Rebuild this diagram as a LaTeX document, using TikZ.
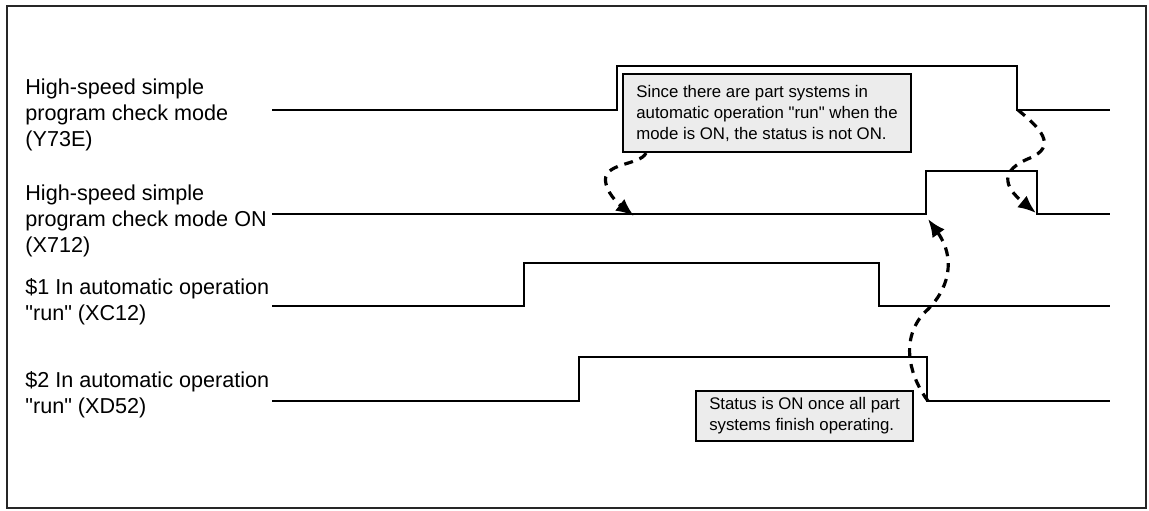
\documentclass[tikz,border=0pt]{standalone}
\usepackage{fontspec}
\setmainfont{Liberation Sans}
\usetikzlibrary{arrows.meta}

\begin{document}
\begin{tikzpicture}[x=0.5pt, y=-0.5pt, >={Latex[length=9pt,width=7.5pt]},
    signal/.style={line width=1pt},
    siglabel/.style={anchor=north west, align=left, inner sep=0pt,
        font=\fontsize{10.8}{13}\selectfont},
    note/.style={draw, line width=1pt, fill=gray!15, align=left,
        font=\fontsize{8.4}{10.5}\selectfont},
    hint/.style={->, line width=1.6pt, dash pattern=on 4.5pt off 3.5pt}]
        \useasboundingbox (0,0) rectangle (1149,510);
        % ==== FRAME ====
        \draw[line width=1pt, black!85] (7,6) rectangle (1146,508);

        % ==== SIGNAL NAMES ====
        \node[siglabel] (nameY73E) at (25,78) {High-speed simple\\program check mode\\(Y73E)};
        \node[siglabel] (nameX712) at (25,184) {High-speed simple\\program check mode ON\\(X712)};
        \node[siglabel] (nameXC12) at (25,278) {\$1 In automatic operation\\\textquotedbl run\textquotedbl{} (XC12)};
        \node[siglabel] (nameXD52) at (25,371) {\$2 In automatic operation\\\textquotedbl run\textquotedbl{} (XD52)};

        % ==== WAVEFORMS ====
        \draw[signal] (272,110) -- (617,110) -- (617,66) -- (1017,66)
            coordinate (y73eFall) -- (1017,110) coordinate (y73eLow) -- (1110,110);
        \draw[signal] (272,214) -- (926,214) coordinate (x712Rise) -- (926,171)
            -- (1037,171) -- (1037,214) coordinate (x712Fall) -- (1110,214);
        \draw[signal] (272,306) -- (524,306) -- (524,263) -- (879,263)
            -- (879,306) -- (1110,306);
        \draw[signal] (272,401) -- (579,401) -- (579,357) -- (927,357)
            -- (927,401) coordinate (xd52Fall) -- (1110,401);

        % ==== NOTES ====
        \node[note, minimum width=144pt, minimum height=39pt] (noteBusy) at (767,113)
            {Since there are part systems in\\automatic operation \textquotedbl run\textquotedbl{} when the\\mode is ON, the status is not ON.};
        \node[note, minimum width=108.5pt, minimum height=23.5pt] (noteDone) at (804.5,415.5)
            {Status is ON once all part\\systems finish operating.};

        % ==== CAUSE ARROWS ====
        \coordinate (busyTip) at (634,216);
        \coordinate (riseTip) at (928,219);
        \coordinate (fallTip) at (1036,213);
        \draw[hint] ([xshift=12pt]noteBusy.south west) .. controls (640,166) and (600,162)
            .. (606,184) .. controls (609,196) and (620,205) .. (busyTip);
        \draw[hint] ([xshift=0.5pt]xd52Fall) .. controls (912,380) and (898,342)
            .. (924,313) .. controls (950,290) and (956,258) .. (riseTip);
        \draw[hint] ([xshift=0.5pt]y73eLow) .. controls (1040,128) and (1058,146)
            .. (1030,158) .. controls (1000,170) and (1003,186) .. (fallTip);
\end{tikzpicture}
\end{document}
